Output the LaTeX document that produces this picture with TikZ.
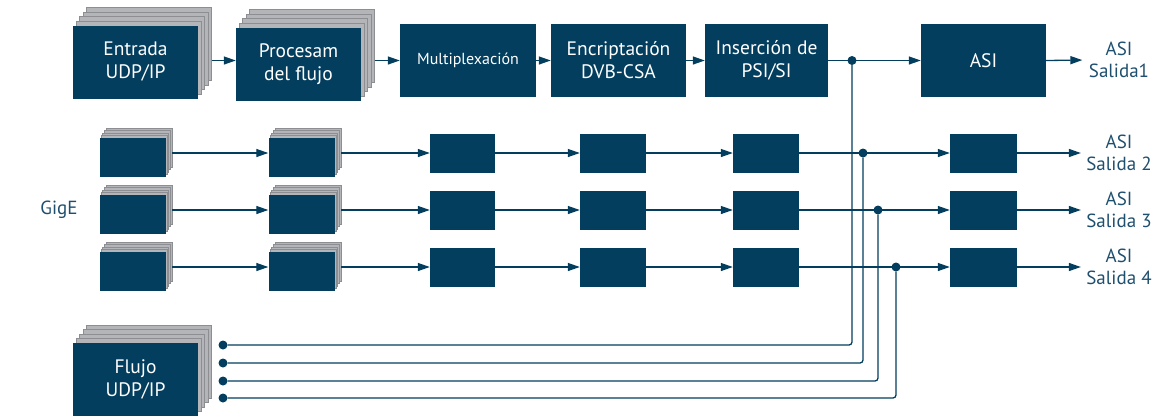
\documentclass[tikz,border=0pt]{standalone}
\usepackage{fontspec}
\setmainfont{PT Sans}
\usetikzlibrary{arrows.meta,calc}
\definecolor{dblue}{HTML}{033E5E}
\definecolor{lgray}{HTML}{B3B5B8}
\definecolor{mgray}{HTML}{8C8E91}
\definecolor{tblue}{HTML}{1E4F6E}
\tikzset{
 blk/.style={fill=dblue, draw=none, text=white, inner sep=0pt, align=center, font=\fontsize{19.5}{23}\selectfont},
 layer/.style={fill=lgray, draw=mgray, line width=0.7pt, inner sep=0pt},
 conn/.style={draw=dblue, line width=1.3pt},
 arr/.style={conn, -{Triangle[length=12pt,width=8pt]}},
 dot/.style={circle, fill=dblue, inner sep=0pt, minimum size=9pt},
 lbl/.style={text=tblue, align=center, font=\fontsize{19}{22.5}\selectfont}
}
\newcommand\mystack[8]{%
 \foreach \k in {4,3,2,1}{
   \node[layer, minimum width=#4, minimum height=#5] (#1l\k) at ({#2+#6*\k},{#3+#7*\k}) {};
 }
 \node[blk, minimum width=#4, minimum height=#5] (#1) at (#2,#3) {#8};
}
\begin{document}
\begin{tikzpicture}[x=1pt,y=-1pt]
\useasboundingbox (0,0) rectangle (1156,416);
% top row
\mystack{in1}{135.5}{62}{125pt}{73pt}{3.3}{-4.5}{Entrada\\UDP/IP}
\mystack{pr1}{298.5}{64}{125pt}{73pt}{3.3}{-4.5}{Procesam\\del flujo}
\node[blk, minimum width=136pt, minimum height=73pt, font=\fontsize{16}{19}\selectfont] (mx1) at (468,60.5) {Multiplexación};
\node[blk, minimum width=135pt, minimum height=73pt] (en1) at (618.5,60.5) {Encriptación\\DVB-CSA};
\node[blk, minimum width=123pt, minimum height=73pt] (ps1) at (766.5,60.5) {Inserción de\\PSI/SI};
\node[blk, minimum width=125pt, minimum height=73pt] (as1) at (983.5,60.5) {ASI};
\node[lbl] (o1) at (1119,60) {ASI\\Salida1};
\node[dot] (j1) at (852,60.5) {};
\draw[arr] (in1l4.east |- mx1) -- (pr1.west |- mx1);
\draw[arr] (pr1l4.east |- mx1) -- (mx1.west);
\draw[arr] (mx1.east) -- (en1.west);
\draw[arr] (en1.east) -- (ps1.west);
\draw[arr] (ps1.east) -- (as1.west);
\draw[arr, shorten >=3pt] (as1.east) -- (o1.west);
% rows 2-4
\foreach \r/\y/\jx in {2/153/863,3/210/878,4/267/896}{
  \mystack{a\r}{132.5}{\y+4.5}{66pt}{39pt}{1.6}{-2.5}{}
  \mystack{b\r}{301.5}{\y+4.5}{66pt}{39pt}{1.6}{-2.5}{}
  \node[blk, minimum width=65pt, minimum height=39pt] (mx\r) at (462.5,\y) {};
  \node[blk, minimum width=66pt, minimum height=39pt] (en\r) at (613,\y) {};
  \node[blk, minimum width=66pt, minimum height=39pt] (ps\r) at (766,\y) {};
  \node[blk, minimum width=67pt, minimum height=39pt] (as\r) at (983.5,\y) {};
  \node[lbl] (o\r) at (1119,\y) {ASI\\Salida \r};
  \node[dot] (j\r) at (\jx,\y) {};
  \draw[arr] (a\r l4.east |- mx\r) -- (b\r.west |- mx\r);
  \draw[arr] (b\r l4.east |- mx\r) -- (mx\r.west);
  \draw[arr] (mx\r.east) -- (en\r.west);
  \draw[arr] (en\r.east) -- (ps\r.west);
  \draw[arr] (ps\r.east) -- (as\r.west);
  \draw[arr, shorten >=2pt] (as\r.east) -- (o\r.west);
}
\node[lbl] (gige) at (59,210) {GigE};
% bottom
\mystack{fl}{135.5}{379.5}{125pt}{73pt}{3.3}{-4.5}{Flujo\\UDP/IP}
\node[dot] (s1) at (223,345) {};
\node[dot] (s2) at (223,363) {};
\node[dot] (s3) at (223,381) {};
\node[dot] (s4) at (223,398) {};
\foreach \i in {1,2,3,4}{
  \draw[conn, rounded corners=3pt] (s\i) -| (j\i);
}
\end{tikzpicture}
\end{document}
